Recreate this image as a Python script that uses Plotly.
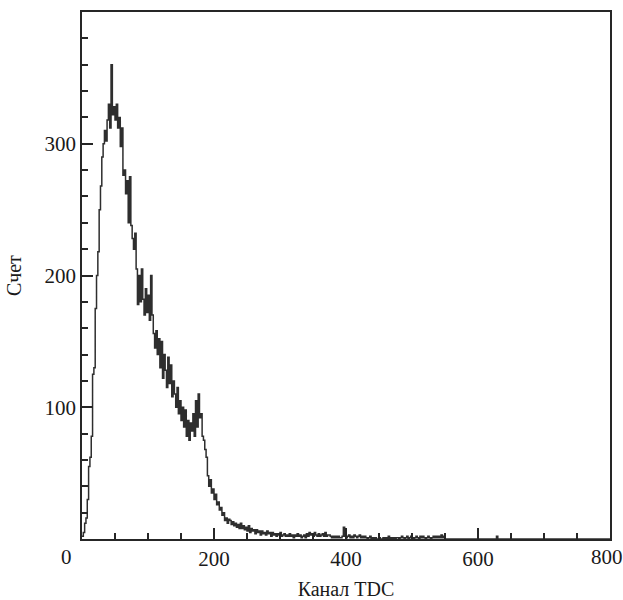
import numpy as np
import plotly.graph_objects as go

BIN_WIDTH = 2  # каналов TDC на бин

# отсчеты по бинам, начиная с канала 0 (шаг BIN_WIDTH)
COUNTS = [
    2, 5, 12, 16, 30, 55, 62, 78, 125, 130, 175, 200,          # 0..22
    218, 250, 268, 290, 300, 310, 302, 318, 330, 312, 360, 322,  # 24..46
    328, 318, 330, 312, 320, 298, 312, 276, 280, 262, 272, 240,  # 48..70
    275, 238, 228, 220, 232, 205, 178, 200, 180, 205, 182, 170,  # 72..94
    190, 172, 185, 166, 200, 170, 156, 145, 158, 140, 152, 130,  # 96..118
    150, 122, 140, 128, 115, 138, 118, 132, 108, 120, 110, 100,  # 120..142
    115, 95, 105, 90, 100, 85, 98, 78, 90, 75, 88, 82,           # 144..166
    95, 78, 105, 85, 110, 92, 95, 78, 75, 68, 62, 48,            # 168..190
    40, 45, 35, 38, 30, 34, 26, 28, 22, 24, 18, 20,              # 192..214
    14, 16, 12, 15, 14, 11, 13, 10, 12, 9, 11, 8,                # 216..238
    12, 8, 10, 7, 9, 6, 10, 5, 8, 6, 7, 4,                       # 240..262
    7, 5, 6, 3, 6, 4, 5, 3, 6, 4, 5, 2,                          # 264..286
    5, 3, 4, 2, 4, 3, 5, 2, 3, 4, 2, 3,                          # 288..310
    2, 4, 2, 3, 1, 3, 2, 4, 2, 3, 1, 2,                          # 312..334
    3, 1, 4, 2, 5, 3, 4, 2, 5, 3, 2, 4,                          # 336..358
    2, 3, 4, 2, 5, 2, 3, 3, 2, 1, 2, 1,                          # 360..382
    2, 1, 2, 1, 1, 2, 9, 2, 1, 2, 3, 1,                          # 384..406
    2, 1, 3, 2, 1, 2, 3, 1, 2, 1, 2, 1,                          # 408..430
    0, 1, 2, 0, 1, 0, 1, 0, 0, 1, 0, 0,                          # 432..454
    1, 0, 1, 0, 2, 0, 1, 0, 1, 0, 1, 1,                          # 456..478
    0, 1, 2, 1, 0, 1, 2, 0, 1, 2, 1, 0,                          # 480..502
    1, 2, 1, 0, 2, 1, 2, 1, 0, 1, 2, 1,                          # 504..526
    0, 1, 2, 1, 2, 1, 2, 1, 3, 1, 2, 0,                          # 528..550
]
# одиночные отсчеты далеко в хвосте
FAR_CHANNELS = [628]
FAR_COUNTS = [2]
X_MAX = 800

n_bins = X_MAX // BIN_WIDTH
counts = np.zeros(n_bins)
counts[:len(COUNTS)] = COUNTS
for ch, c in zip(FAR_CHANNELS, FAR_COUNTS):
    counts[ch // BIN_WIDTH] = c
edges = np.arange(n_bins + 1) * BIN_WIDTH
y = np.append(counts, counts[-1])

FONT = 'Liberation Serif, Times New Roman, serif'
AX = '#262626'
FS = 21

fig = go.Figure()
fig.add_trace(go.Scatter(
    x=edges, y=y, mode='lines', line_shape='hv',
    line=dict(color='#2e2e2e', width=1.5),
    showlegend=False, hoverinfo='skip',
))

fig.update_layout(
    width=623, height=600,
    margin=dict(l=82, r=13, t=12, b=61),
    paper_bgcolor='white', plot_bgcolor='white',
    font=dict(family=FONT, size=FS, color='#1a1a1a'),
    xaxis=dict(
        range=[0, X_MAX], automargin=False,
        tickmode='array', tickvals=[0, 200, 400, 600, 800],
        ticktext=['', '200', '400', '600', ''],
        ticks='inside', ticklen=11, tickwidth=1.5, tickcolor=AX,
        minor=dict(tickmode='linear', dtick=50, tick0=0, ticks='inside',
                   ticklen=6, tickwidth=1.5, tickcolor=AX),
        showline=True, linecolor=AX, linewidth=1.5, mirror=True,
        showgrid=False, zeroline=False, layer='above traces',
        title=dict(text='Канал TDC', standoff=16, font=dict(size=FS - 1)),
    ),
    yaxis=dict(
        range=[0, 400], automargin=False,
        tickmode='array', tickvals=[0, 100, 200, 300, 400],
        ticktext=['', '100', '200', '300', ''],
        ticks='inside', ticklen=11, tickwidth=1.5, tickcolor=AX,
        minor=dict(tickmode='linear', dtick=20, tick0=0, ticks='inside',
                   ticklen=6, tickwidth=1.5, tickcolor=AX),
        showline=True, linecolor=AX, linewidth=1.5, mirror=True,
        showgrid=False, zeroline=False, layer='above traces',
        title=dict(text='Счет', standoff=18, font=dict(size=FS - 1)),
    ),
    annotations=[
        dict(text='0', x=0, y=0, xref='x', yref='y', xanchor='right', yanchor='top',
             xshift=-8, yshift=-4, showarrow=False, font=dict(size=FS)),
        dict(text='800', x=X_MAX, y=0, xref='x', yref='y', xanchor='center', yanchor='top',
             xshift=-3, yshift=-4, showarrow=False, font=dict(size=FS)),
    ],
)

# убираем стандартный отступ body, чтобы фигура заняла окно целиком
fig.write_html(
    'out.html',
    config={'displayModeBar': False},
    post_script="document.body.style.margin='0';document.documentElement.style.overflow='hidden';",
)
